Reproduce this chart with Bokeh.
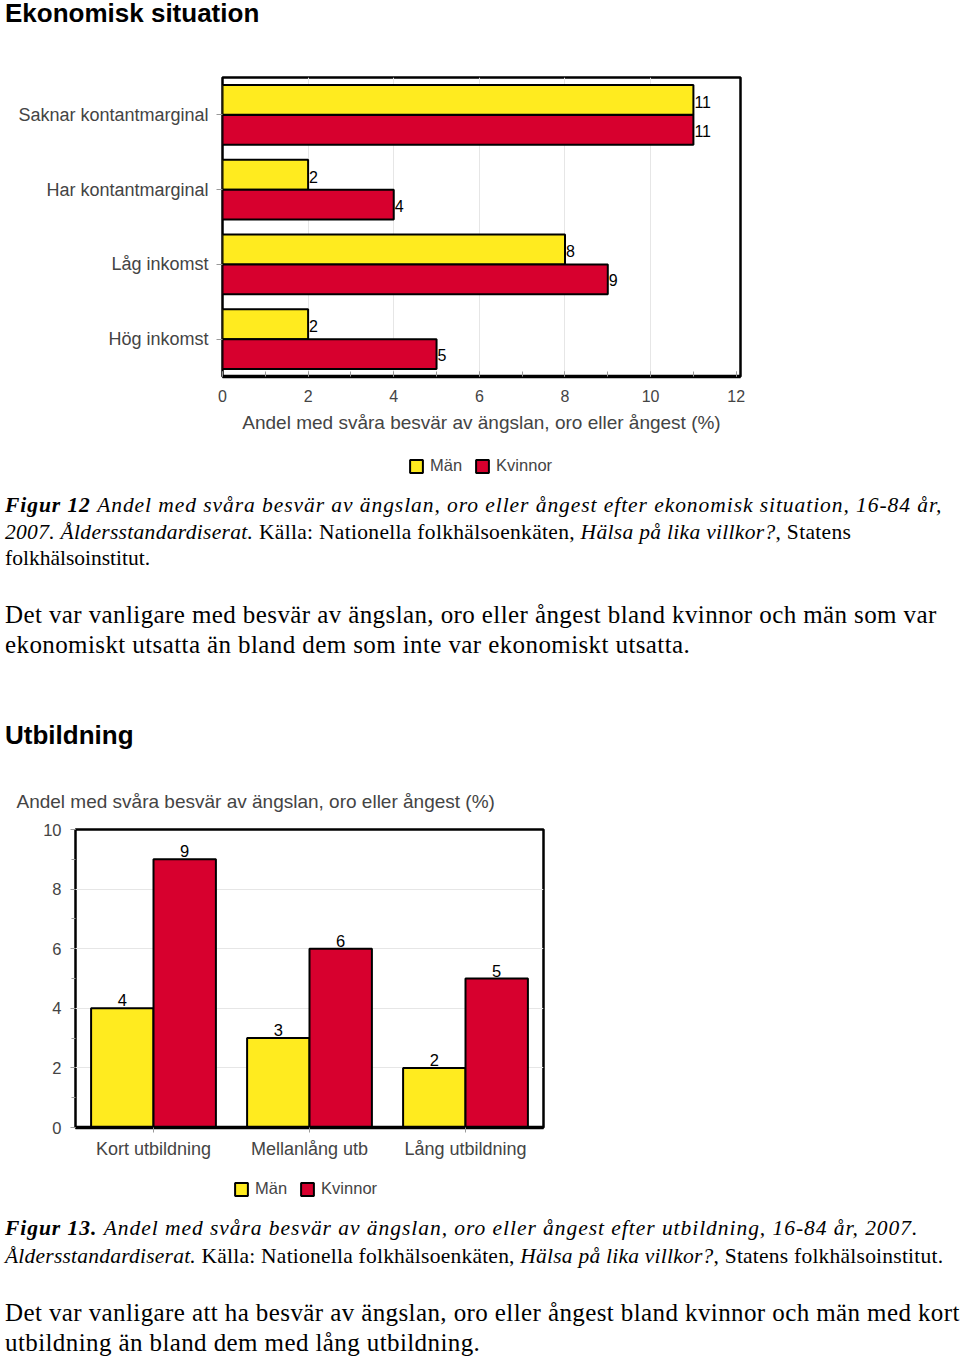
from bokeh.plotting import figure
from bokeh.models import (ColumnDataSource, Div, FactorRange, Range1d, FixedTicker,
                          Legend, LegendItem)
from bokeh.transform import dodge
from bokeh.layouts import column, row
from bokeh.embed import file_html
from bokeh.resources import INLINE
from bokeh.core.properties import value

# ---------------- data ----------------
econ_categories = ["Saknar kontantmarginal", "Har kontantmarginal", "Låg inkomst", "Hög inkomst"]
econ_man = [11, 2, 8, 2]
econ_kvinnor = [11, 4, 9, 5]
econ_x_ticks = [0, 2, 4, 6, 8, 10, 12]

edu_categories = ["Kort utbildning", "Mellanlång utb", "Lång utbildning"]
edu_man = [4, 3, 2]
edu_kvinnor = [9, 6, 5]
edu_y_ticks = [0, 2, 4, 6, 8, 10]

series_names = ["Män", "Kvinnor"]
axis_title = "Andel med svåra besvär av ängslan, oro eller ångest (%)"

# ---------------- style ----------------
YELLOW = "#FFEB1F"
RED = "#D7002E"
SANS = "Liberation Sans"
SERIF = "Liberation Serif"
GRID = "#e6e6e6"
TICK = "#9a9a9a"


def text_div(lines, height, font, size, lh, pad_top, weight="normal"):
    style = (f"font-family:'{font}';font-size:{size}px;line-height:{lh}px;"
             f"padding:{pad_top}px 0 0 5px;white-space:nowrap;color:#000;font-weight:{weight};margin:0")
    html = "<br>".join(f'<span style="letter-spacing:{ls}px">{t}</span>' for t, ls in lines)
    return Div(text=f'<div style="{style}">{html}</div>', width=960, height=height, margin=(0, 0, 0, 0))


def legend_fig(height, loc, source):
    # a strip that only carries the legend; its series renderers are hidden
    lf = figure(width=960, height=height, output_backend="svg", toolbar_location=None,
                x_range=Range1d(-2, -1), y_range=Range1d(-2, -1),
                x_axis_location=None, y_axis_location=None,
                min_border=0, margin=(0, 0, 0, 0))
    lf.grid.visible = False
    lf.outline_line_color = None
    ra = lf.hbar(y="man", left=0, right="man", height=0.4, source=source,
                 fill_color=YELLOW, line_color="black", line_width=2)
    rb = lf.hbar(y="kv", left=0, right="kv", height=0.4, source=source,
                 fill_color=RED, line_color="black", line_width=2)
    ra.visible = False
    rb.visible = False
    leg = Legend(items=[LegendItem(label=series_names[0], renderers=[ra]),
                        LegendItem(label=series_names[1], renderers=[rb])],
                 orientation="horizontal", location=loc,
                 border_line_color=None, background_fill_alpha=0,
                 inactive_fill_alpha=0,
                 label_text_font=SANS, label_text_font_size="16.5px",
                 glyph_width=16, glyph_height=16, label_standoff=6, spacing=12,
                 padding=0, margin=0)
    lf.add_layout(leg, "center")
    return lf


# ---------------- figure 1 ----------------
src1 = ColumnDataSource(dict(
    cat=econ_categories, man=econ_man, kv=econ_kvinnor,
    man_txt=[str(v) for v in econ_man], kv_txt=[str(v) for v in econ_kvinnor]))

p1 = figure(width=960, height=410, output_backend="svg", toolbar_location=None,
            y_range=FactorRange(factors=econ_categories[::-1]),
            x_range=Range1d(0, 12.1),
            min_border_left=222, min_border_right=220, min_border_top=37, min_border_bottom=74,
            margin=(0, 0, 0, 0))
p1.outline_line_color = "black"
p1.outline_line_width = 2.5

p1.hbar(y=dodge("cat", 0.2, range=p1.y_range), left=0, right="man", height=0.4,
        fill_color=YELLOW, line_color="black", line_width=2, source=src1)
p1.hbar(y=dodge("cat", -0.2, range=p1.y_range), left=0, right="kv", height=0.4,
        fill_color=RED, line_color="black", line_width=2, source=src1)
p1.text(x="man", y=dodge("cat", 0.2, range=p1.y_range), text="man_txt", source=src1,
        text_align="left", text_baseline="middle", x_offset=1, y_offset=2,
        text_font=value(SANS), text_font_size="16px", text_color="black")
p1.text(x="kv", y=dodge("cat", -0.2, range=p1.y_range), text="kv_txt", source=src1,
        text_align="left", text_baseline="middle", x_offset=1, y_offset=1,
        text_font=value(SANS), text_font_size="16px", text_color="black")

p1.xaxis.ticker = FixedTicker(ticks=econ_x_ticks, minor_ticks=list(range(0, 13)))
p1.xgrid.ticker = FixedTicker(ticks=econ_x_ticks[1:-1])
p1.xgrid.grid_line_color = GRID
p1.ygrid.grid_line_color = None
p1.xaxis.axis_label = axis_title
p1.xaxis.axis_label_text_font = SANS
p1.xaxis.axis_label_text_font_style = "normal"
p1.xaxis.axis_label_text_font_size = "19px"
p1.xaxis.axis_label_standoff = 7
p1.xaxis.major_label_text_font = SANS
p1.xaxis.major_label_text_font_size = "16px"
p1.xaxis.major_label_standoff = 13
p1.xaxis.major_tick_in = 5
p1.xaxis.major_tick_out = 0
p1.xaxis.minor_tick_in = 5
p1.xaxis.minor_tick_out = 0
p1.xaxis.major_tick_line_color = TICK
p1.xaxis.minor_tick_line_color = TICK
p1.xaxis.axis_line_color = "black"
p1.xaxis.axis_line_width = 3.5

p1.yaxis.major_label_text_font = SANS
p1.yaxis.major_label_text_font_size = "18px"
p1.yaxis.major_label_standoff = 8
p1.yaxis.major_tick_in = 0
p1.yaxis.major_tick_out = 6
p1.yaxis.major_tick_line_color = TICK
p1.yaxis.axis_line_color = None

leg_fig1 = legend_fig(36, (408, 11), src1)

# ---------------- figure 2 ----------------
src2 = ColumnDataSource(dict(
    cat=edu_categories, man=edu_man, kv=edu_kvinnor,
    man_txt=[str(v) for v in edu_man], kv_txt=[str(v) for v in edu_kvinnor]))

p2 = figure(width=960, height=396, output_backend="svg", toolbar_location=None,
            x_range=FactorRange(factors=edu_categories),
            y_range=Range1d(0, 10),
            min_border_left=75, min_border_right=417, min_border_top=60, min_border_bottom=38,
            margin=(0, 0, 0, 0), title=axis_title)
p2.outline_line_color = "black"
p2.outline_line_width = 2.5
p2.title.align = "left"
p2.title.offset = -59
p2.title.text_font = SANS
p2.title.text_font_style = "normal"
p2.title.text_font_size = "19px"
p2.title.standoff = 35

p2.vbar(x=dodge("cat", -0.2, range=p2.x_range), bottom=0, top="man", width=0.4,
        fill_color=YELLOW, line_color="black", line_width=2, source=src2)
p2.vbar(x=dodge("cat", 0.2, range=p2.x_range), bottom=0, top="kv", width=0.4,
        fill_color=RED, line_color="black", line_width=2, source=src2)
p2.text(x=dodge("cat", -0.2, range=p2.x_range), y="man", text="man_txt", source=src2,
        text_align="center", text_baseline="bottom", y_offset=-2,
        text_font=value(SANS), text_font_size="16.5px", text_color="black")
p2.text(x=dodge("cat", 0.2, range=p2.x_range), y="kv", text="kv_txt", source=src2,
        text_align="center", text_baseline="bottom", y_offset=-2,
        text_font=value(SANS), text_font_size="16.5px", text_color="black")

p2.yaxis.ticker = FixedTicker(ticks=edu_y_ticks, minor_ticks=list(range(0, 11)))
p2.ygrid.ticker = FixedTicker(ticks=edu_y_ticks[1:-1])
p2.ygrid.grid_line_color = GRID
p2.xgrid.grid_line_color = None
p2.yaxis.major_label_text_font = SANS
p2.yaxis.major_label_text_font_size = "16.5px"
p2.yaxis.major_label_standoff = 9
p2.yaxis.major_tick_in = 0
p2.yaxis.major_tick_out = 5
p2.yaxis.minor_tick_in = 0
p2.yaxis.minor_tick_out = 4
p2.yaxis.major_tick_line_color = TICK
p2.yaxis.minor_tick_line_color = TICK
p2.yaxis.axis_line_color = None

p2.xaxis.major_label_text_font = SANS
p2.xaxis.major_label_text_font_size = "18px"
p2.xaxis.major_label_standoff = 6
p2.xaxis.major_tick_in = 0
p2.xaxis.major_tick_out = 5
p2.xaxis.major_tick_line_color = TICK
p2.xaxis.axis_line_color = "black"
p2.xaxis.axis_line_width = 3.5

leg_fig2 = legend_fig(45, (233, 12), src2)

# ---------------- text blocks ----------------
title1 = text_div([("Ekonomisk situation", 0)], 40, SANS, 26, 26, 0, weight="bold")
cap1 = text_div([
    ("<b><i>Figur 12</i></b> <i>Andel med svåra besvär av ängslan, oro eller ångest efter ekonomisk situation, 16-84 år,</i>", 0.94),
    ("<i>2007. Åldersstandardiserat.</i> Källa: Nationella folkhälsoenkäten, <i>Hälsa på lika villkor?</i>, Statens", 0.31),
    ("folkhälsoinstitut.", 0)], 89, SERIF, 21.5, 26.5, 6)
body1 = text_div([
    ("Det var vanligare med besvär av ängslan, oro eller ångest bland kvinnor och män som var", 0.4),
    ("ekonomiskt utsatta än bland dem som inte var ekonomiskt utsatta.", 0.4)], 115, SERIF, 25, 30, 25)
title2 = text_div([("Utbildning", 0)], 79, SANS, 26, 26, 32, weight="bold")
cap2 = text_div([
    ("<b><i>Figur 13.</i></b> <i>Andel med svåra besvär av ängslan, oro eller ångest efter utbildning, 16-84 år, 2007.</i>", 0.96),
    ("<i>Åldersstandardiserat.</i> Källa: Nationella folkhälsoenkäten, <i>Hälsa på lika villkor?</i>, Statens folkhälsoinstitut.", 0.23)],
    75, SERIF, 21.5, 28, 4)
body2 = text_div([
    ("Det var vanligare att ha besvär av ängslan, oro eller ångest bland kvinnor och män med kort", 0.4),
    ("utbildning än bland dem med lång utbildning.", 0.4)], 74, SERIF, 25, 30, 13)

box1 = row(p1, width=960, height=410, margin=(0, 0, 0, 0))
boxl1 = row(leg_fig1, width=960, height=36, margin=(0, 0, 0, 0))
box2 = row(p2, width=960, height=396, margin=(0, 0, 0, 0))
boxl2 = row(leg_fig2, width=960, height=45, margin=(0, 0, 0, 0))
page = column(title1, box1, boxl1, cap1, body1, title2, box2, boxl2, cap2, body2,
              spacing=0, margin=(0, 0, 0, 0))

open("out.html", "w").write(file_html(page, INLINE))
